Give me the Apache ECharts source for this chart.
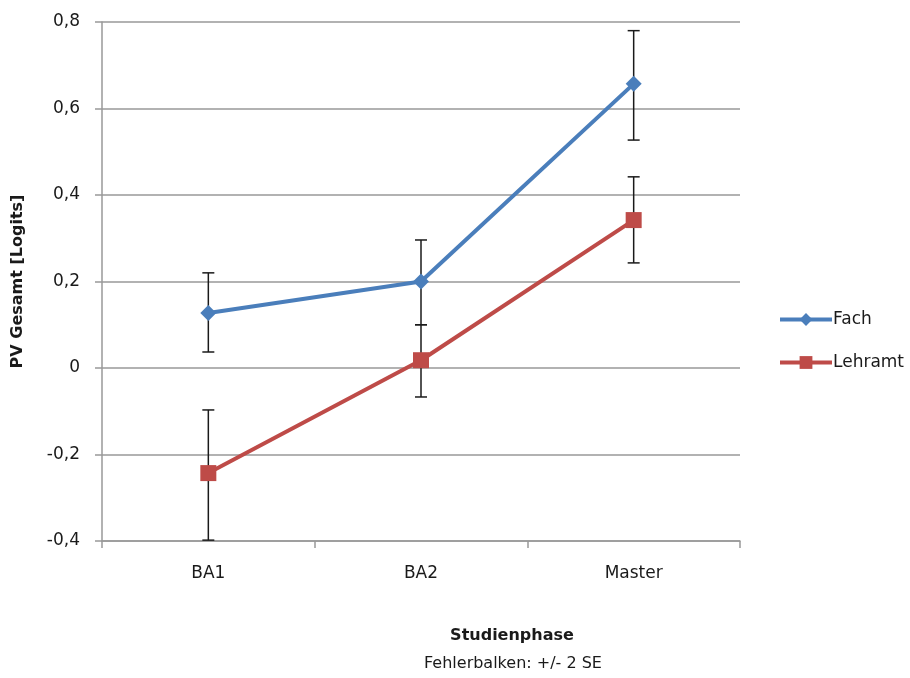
<!DOCTYPE html>
<html>
<head>
<meta charset="utf-8">
<script src="https://cdn.jsdelivr.net/npm/echarts@6/dist/echarts.min.js"></script>
<style>html,body{margin:0;padding:0;background:#fff;}#c{width:910px;height:678px;}</style>
</head>
<body>
<div id="c"></div>
<script>
const categories = ['BA1', 'BA2', 'Master'];
const fachValues = [0.127, 0.2, 0.657];
const fachLow = [0.037, 0.1, 0.527];
const fachHigh = [0.22, 0.296, 0.78];
const lehramtValues = [-0.243, 0.018, 0.342];
const lehramtLow = [-0.398, -0.067, 0.243];
const lehramtHigh = [-0.097, 0.1, 0.442];
const yTicks = [-0.4, -0.2, 0, 0.2, 0.4, 0.6, 0.8];
const xTitle = 'Studienphase';
const xSubtitle = 'Fehlerbalken: +/- 2 SE';
const yTitle = 'PV Gesamt [Logits]';

const FONT = '"DejaVu Sans", "Open Sans", sans-serif';
const TXT = '#1a1a1a';

function errorSeries(name, low, high) {
  return {
    type: 'custom',
    name: name + '_err',
    z: 1,
    silent: true,
    data: categories.map((c, i) => [i, low[i], high[i]]),
    renderItem: function (params, api) {
      const x = api.value(0);
      const lo = api.coord([x, api.value(1)]);
      const hi = api.coord([x, api.value(2)]);
      const cw = 6;
      const style = { stroke: '#1a1a1a', lineWidth: 1.5 };
      return {
        type: 'group',
        children: [
          { type: 'line', shape: { x1: lo[0], y1: lo[1], x2: hi[0], y2: hi[1] }, style: style },
          { type: 'line', shape: { x1: lo[0] - cw, y1: lo[1], x2: lo[0] + cw, y2: lo[1] }, style: style },
          { type: 'line', shape: { x1: hi[0] - cw, y1: hi[1], x2: hi[0] + cw, y2: hi[1] }, style: style }
        ]
      };
    }
  };
}

const chart = echarts.init(document.getElementById('c'), null, { renderer: 'canvas' });
chart.setOption({
  animation: false,
  backgroundColor: '#ffffff',
  textStyle: { fontFamily: FONT },
  grid: { left: 102, right: 170, top: 22, bottom: 137, outerBoundsMode: 'none', containLabel: false },
  legend: {
    orient: 'vertical',
    left: 773,
    top: 306,
    itemWidth: 52,
    itemHeight: 16,
    itemGap: 26,
    data: ['Fach', 'Lehramt'],
    lineStyle: { width: 4 },
    textStyle: { fontFamily: FONT, fontSize: 17, color: TXT, padding: [0, 0, 0, -4] }
  },
  xAxis: {
    type: 'category',
    data: categories,
    boundaryGap: true,
    axisLine: { onZero: false, lineStyle: { color: '#999', width: 1.5 } },
    axisTick: { show: true, length: 7, lineStyle: { color: '#999', width: 1.5 } },
    axisLabel: { fontFamily: FONT, fontSize: 17, color: TXT, margin: 24 },
    splitLine: { show: false }
  },
  yAxis: {
    type: 'value',
    min: yTicks[0],
    max: yTicks[yTicks.length - 1],
    interval: 0.2,
    axisLine: { show: true, lineStyle: { color: '#999', width: 1.5 } },
    axisTick: { show: true, length: 7, lineStyle: { color: '#999', width: 1.5 } },
    splitLine: { show: true, lineStyle: { color: '#999', width: 1.5 } },
    axisLabel: {
      fontFamily: FONT, fontSize: 17, color: TXT, margin: 22,
      formatter: function (v) { return (Math.round(v * 10) / 10).toString().replace('.', ','); }
    },
    name: yTitle,
    nameLocation: 'middle',
    nameGap: 76,
    nameRotate: 90,
    nameTextStyle: { fontFamily: FONT, fontSize: 16, fontWeight: 'bold', color: TXT }
  },
  graphic: [
    {
      type: 'text', x: 512, y: 636,
      style: { text: xTitle, fontFamily: FONT, fontSize: 16, fontWeight: 'bold', fill: TXT, align: 'center', verticalAlign: 'middle' }
    },
    {
      type: 'text', x: 513, y: 664,
      style: { text: xSubtitle, fontFamily: FONT, fontSize: 16, fill: TXT, align: 'center', verticalAlign: 'middle' }
    }
  ],
  series: [
    errorSeries('Fach', fachLow, fachHigh),
    errorSeries('Lehramt', lehramtLow, lehramtHigh),
    {
      name: 'Fach',
      type: 'line',
      z: 3,
      data: fachValues,
      symbol: 'diamond',
      symbolSize: 16,
      lineStyle: { color: '#4a7ebb', width: 4 },
      itemStyle: { color: '#4a7ebb' }
    },
    {
      name: 'Lehramt',
      type: 'line',
      z: 3,
      data: lehramtValues,
      symbol: 'rect',
      symbolSize: 16,
      lineStyle: { color: '#be4b48', width: 4 },
      itemStyle: { color: '#be4b48' }
    }
  ]
});
</script>
</body>
</html>
